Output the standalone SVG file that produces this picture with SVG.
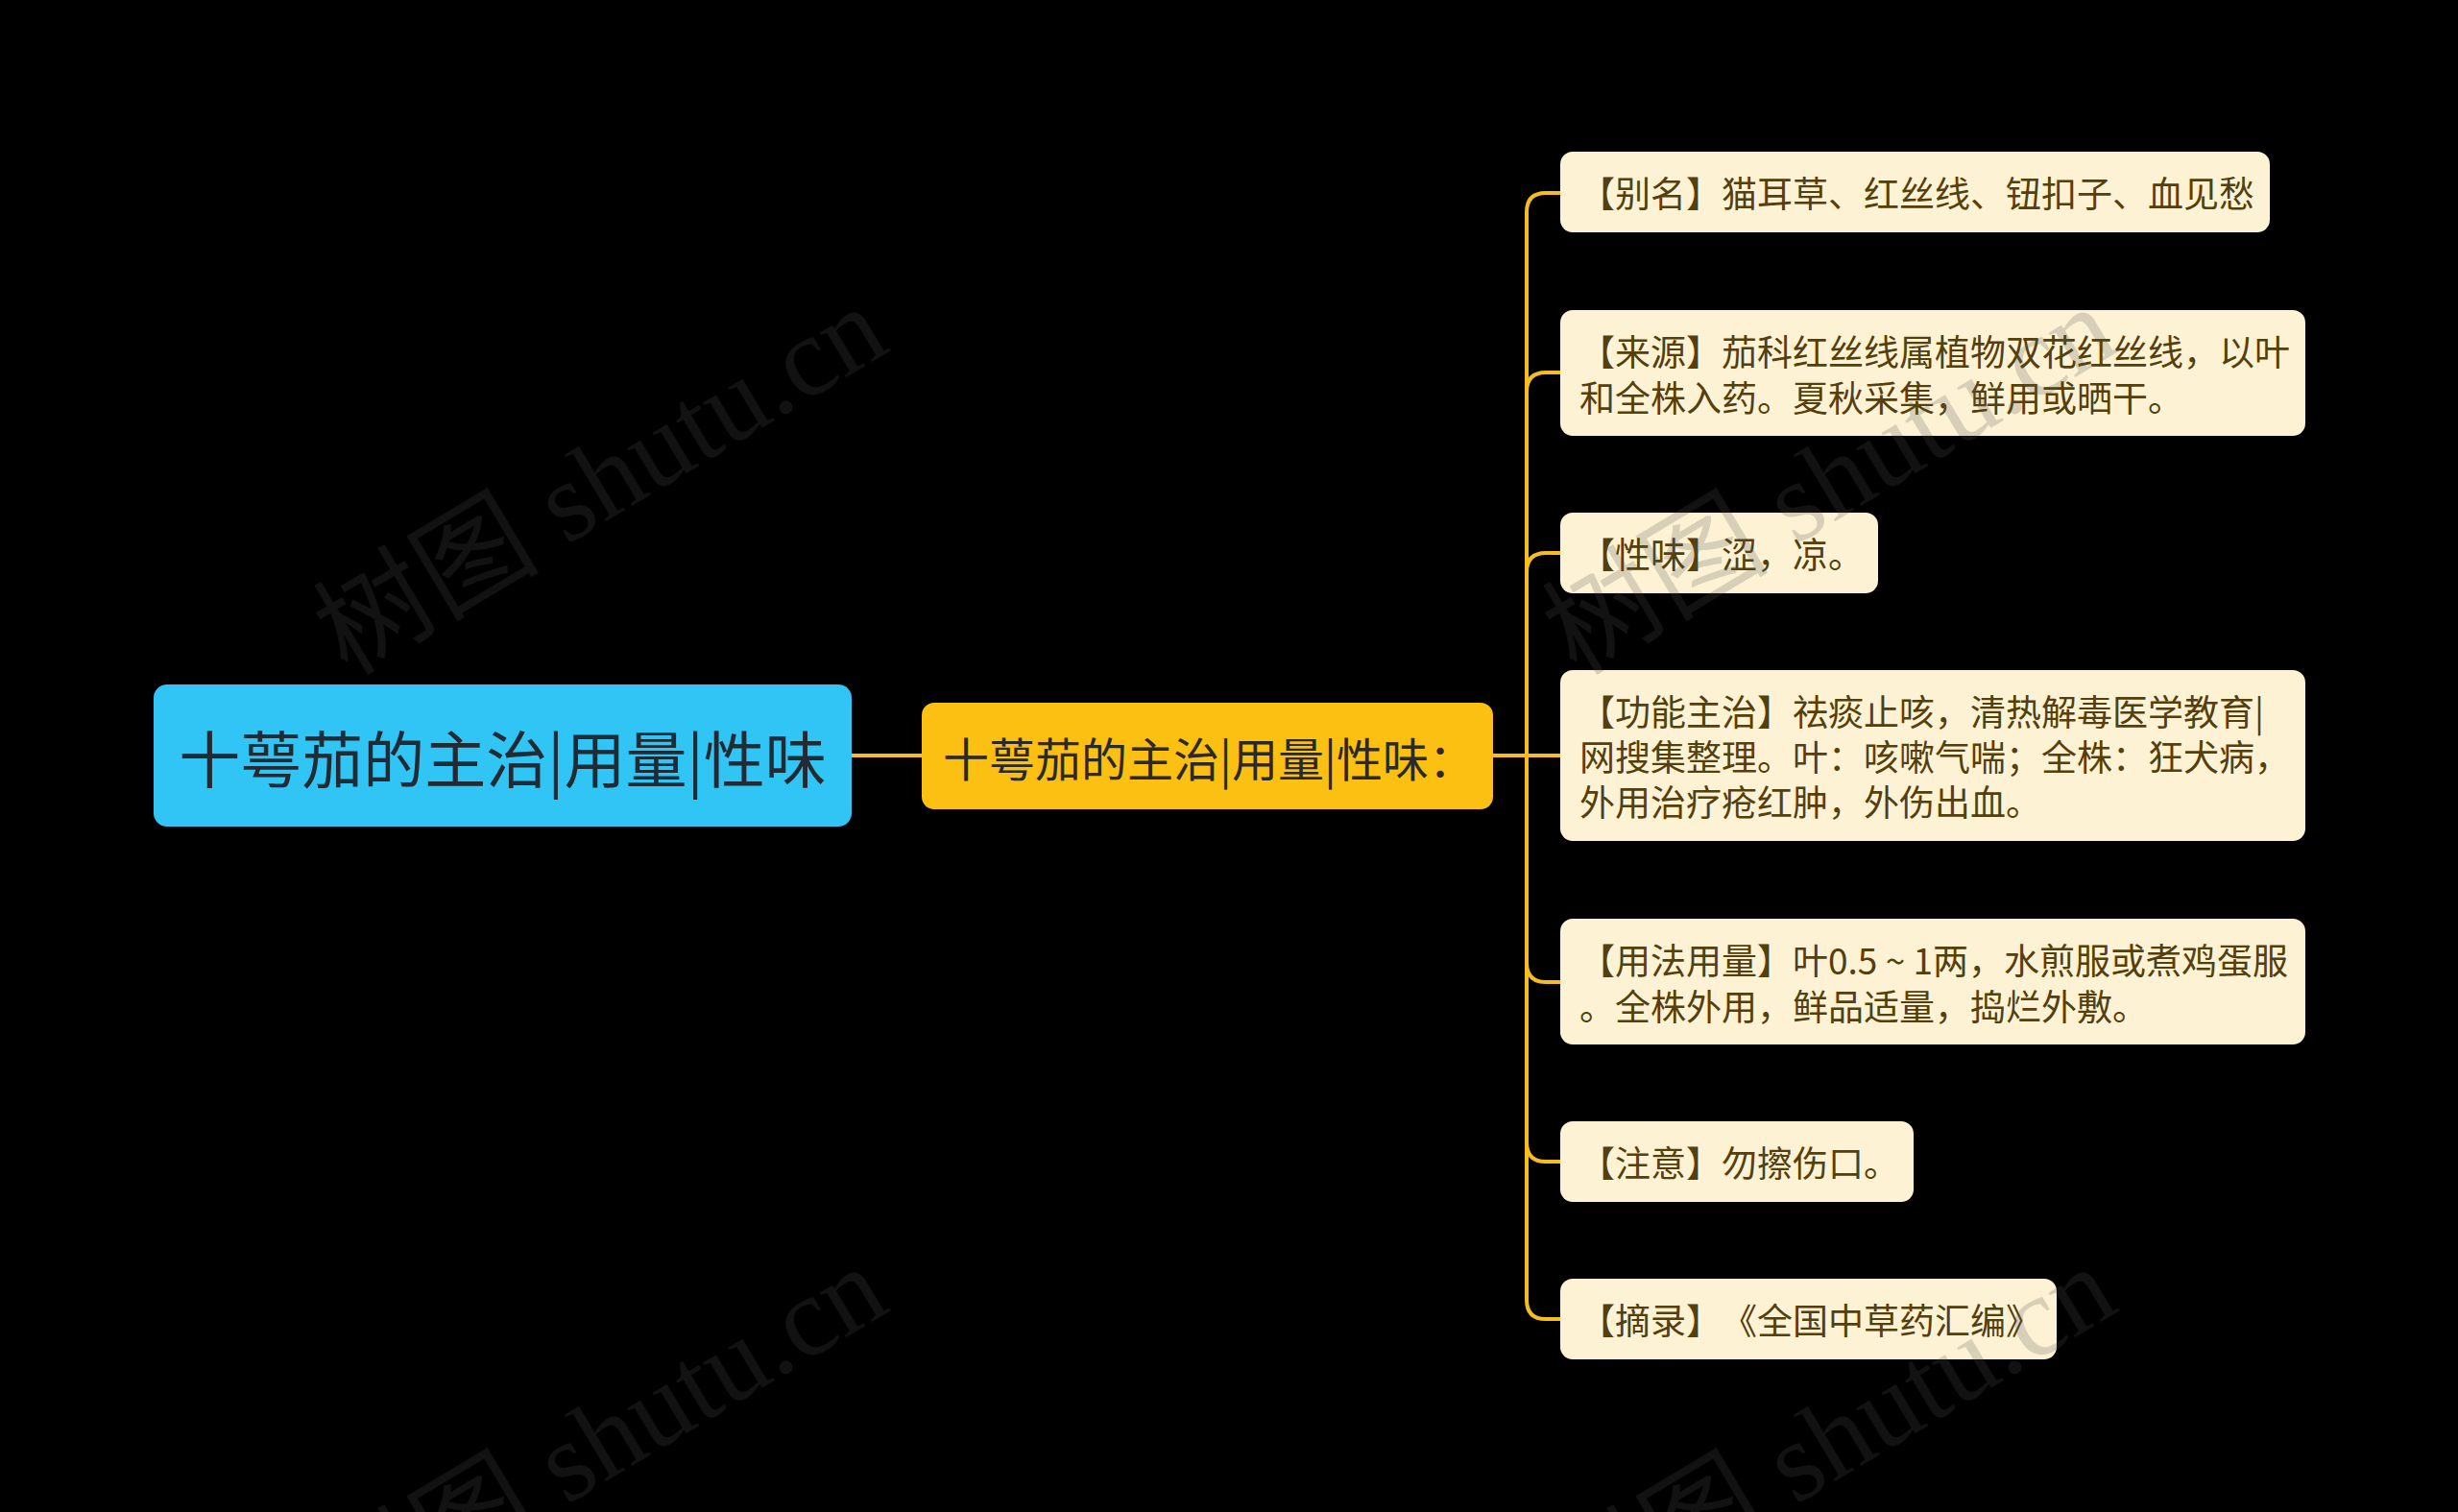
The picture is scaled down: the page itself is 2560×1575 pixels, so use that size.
<svg xmlns="http://www.w3.org/2000/svg" width="2560" height="1575" viewBox="0 0 2560 1575">
<style>
.bg{fill:#000}
.root-box{fill:#31c5f5}
.mid-box{fill:#fcc012}
.leaf-box{fill:#fdf3d4}
.root-t{font-family:"Noto Sans CJK SC","Noto Sans",sans-serif;font-size:64px;fill:#222b33}
.mid-t{font-family:"Noto Sans CJK SC","Noto Sans",sans-serif;font-size:48px;fill:#2a2a2a}
.leaf-t{font-family:"Noto Sans CJK SC","Noto Sans",sans-serif;font-size:37px;fill:#553f0c;text-spacing-trim:space-all}
.conn{fill:none;stroke:#f5be1e;stroke-width:4}
.wm{font-family:"Liberation Serif","Noto Sans CJK SC",serif;font-size:118px;fill:#505050;fill-opacity:0.22}
</style>
<rect class="bg" x="0" y="0" width="2560" height="1575"/>

<g id="connectors">
  <path class="conn" d="M887 787 H960"/>
  <path class="conn" d="M1555 787 H1590 V221 Q1590 201 1610 201 H1625"/>
  <path class="conn" d="M1590 408 Q1590 388 1610 388 H1625"/>
  <path class="conn" d="M1590 596 Q1590 576 1610 576 H1625"/>
  <path class="conn" d="M1590 787 H1625"/>
  <path class="conn" d="M1590 1003 Q1590 1023 1610 1023 H1625"/>
  <path class="conn" d="M1590 1190 Q1590 1210 1610 1210 H1625"/>
  <path class="conn" d="M1590 787 V1354 Q1590 1374 1610 1374 H1625"/>
</g>

<g id="root">
  <rect class="root-box" x="160" y="713" width="727" height="148" rx="14"/>
  <text class="root-t" x="523.5" y="787" text-anchor="middle" dominant-baseline="central">十萼茄的主治|用量|性味</text>
</g>

<g id="mid">
  <rect class="mid-box" x="960" y="732" width="595" height="111" rx="13"/>
  <text class="mid-t" x="982" y="787.5" dominant-baseline="central">十萼茄的主治|用量|性味：</text>
</g>

<g id="leaf1">
  <rect class="leaf-box" x="1625" y="158" width="739" height="84" rx="13"/>
  <text class="leaf-t" x="1645" y="200" dominant-baseline="central">【别名】猫耳草、红丝线、钮扣子、血见愁</text>
</g>

<g id="leaf2">
  <rect class="leaf-box" x="1625" y="323" width="776" height="131" rx="13"/>
  <text class="leaf-t" x="1645" y="365" dominant-baseline="central">【来源】茄科红丝线属植物双花红丝线，以叶</text>
  <text class="leaf-t" x="1645" y="413" dominant-baseline="central">和全株入药。夏秋采集，鲜用或晒干。</text>
</g>

<g id="leaf3">
  <rect class="leaf-box" x="1625" y="534" width="331" height="84" rx="13"/>
  <text class="leaf-t" x="1645" y="576" dominant-baseline="central">【性味】涩，凉。</text>
</g>

<g id="leaf4">
  <rect class="leaf-box" x="1625" y="698" width="776" height="178" rx="13"/>
  <text class="leaf-t" x="1645" y="740" dominant-baseline="central">【功能主治】祛痰止咳，清热解毒医学教育|</text>
  <text class="leaf-t" x="1645" y="787" dominant-baseline="central">网搜集整理。叶：咳嗽气喘；全株：狂犬病，</text>
  <text class="leaf-t" x="1645" y="834" dominant-baseline="central">外用治疗疮红肿，外伤出血。</text>
</g>

<g id="leaf5">
  <rect class="leaf-box" x="1625" y="957" width="776" height="131" rx="13"/>
  <text class="leaf-t" x="1645" y="999" dominant-baseline="central">【用法用量】叶0.5 ~ 1两，水煎服或煮鸡蛋服</text>
  <text class="leaf-t" x="1645" y="1047" dominant-baseline="central">。全株外用，鲜品适量，捣烂外敷。</text>
</g>

<g id="leaf6">
  <rect class="leaf-box" x="1625" y="1168" width="368" height="84" rx="13"/>
  <text class="leaf-t" x="1645" y="1210" dominant-baseline="central">【注意】勿擦伤口。</text>
</g>

<g id="leaf7">
  <rect class="leaf-box" x="1625" y="1332" width="517" height="84" rx="13"/>
  <text class="leaf-t" x="1645" y="1374" dominant-baseline="central">【摘录】《全国中草药汇编》</text>
</g>

<g id="watermarks">
  <text class="wm" x="362" y="705" transform="rotate(-31 362 705)">树图 shutu.cn</text>
  <text class="wm" x="1642" y="705" transform="rotate(-31 1642 705)">树图 shutu.cn</text>
  <text class="wm" x="362" y="1705" transform="rotate(-31 362 1705)">树图 shutu.cn</text>
  <text class="wm" x="1642" y="1705" transform="rotate(-31 1642 1705)">树图 shutu.cn</text>
</g>
</svg>
